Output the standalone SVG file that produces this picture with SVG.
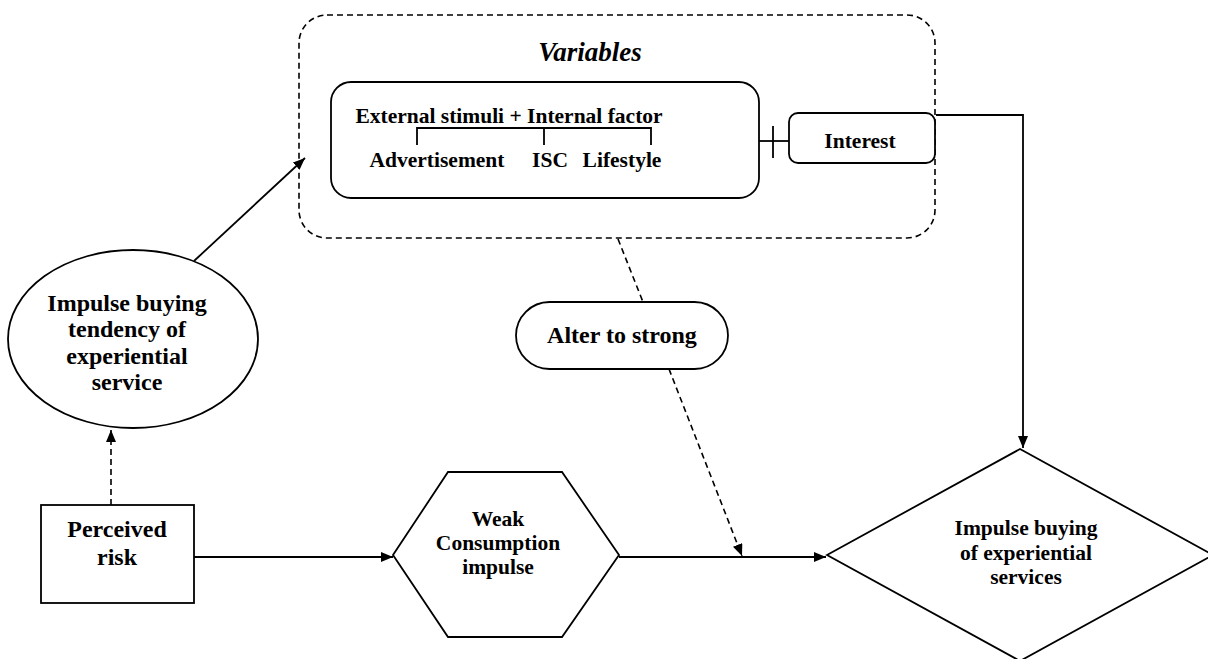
<svg xmlns="http://www.w3.org/2000/svg" width="1208" height="659" viewBox="0 0 1208 659">
  <defs>
    <marker id="arrow" viewBox="0 0 12 10" refX="12" refY="5" markerWidth="12" markerHeight="10" markerUnits="userSpaceOnUse" orient="auto">
      <path d="M0,0 L12,5 L0,10 Z" fill="#000"/>
    </marker>
    <style>
      .shape { fill: #fff; stroke: #000; stroke-width: 1.8; }
      .line { fill: none; stroke: #000; stroke-width: 1.8; }
      .dash { fill: none; stroke: #000; stroke-width: 1.6; stroke-dasharray: 6 4; }
      .lbl { font-family: "Liberation Serif", "Times New Roman", serif; font-weight: bold; fill: #000; text-anchor: middle; }
      .big { font-size: 24px; }
      .mid { font-size: 21.5px; }
    </style>
  </defs>
  <rect width="1208" height="659" fill="#fff"/>

  <!-- Variables group -->
  <g id="variables">
    <rect x="299" y="15" width="636" height="223" rx="28" ry="28" class="dash"/>
    <text x="590" y="61" class="lbl" font-size="27" font-style="italic">Variables</text>
  </g>

  <g id="factors">
    <rect x="331" y="82" width="428" height="116" rx="20" ry="20" class="shape"/>
    <text x="509" y="123" class="lbl mid">External stimuli + Internal factor</text>
    <path d="M417,145 V128 H651 V145 M544,128 V145" class="line" stroke-width="1.5"/>
    <text x="437" y="167" class="lbl mid">Advertisement</text>
    <text x="550" y="167" class="lbl mid">ISC</text>
    <text x="622" y="167" class="lbl mid">Lifestyle</text>
  </g>

  <g id="interest">
    <rect x="789" y="113" width="146" height="50" rx="9" ry="9" class="shape"/>
    <text x="860" y="148" class="lbl mid">Interest</text>
  </g>

  <g id="tendency">
    <ellipse cx="133" cy="339" rx="125" ry="89" class="shape"/>
    <text x="127" y="311" class="lbl big">Impulse buying</text>
    <text x="127" y="337" class="lbl big">tendency of</text>
    <text x="127" y="364" class="lbl big">experiential</text>
    <text x="127" y="390" class="lbl big">service</text>
  </g>

  <g id="perceived-risk">
    <rect x="41" y="505" width="153" height="98" class="shape"/>
    <text x="117" y="537" class="lbl big">Perceived</text>
    <text x="117" y="565" class="lbl big">risk</text>
  </g>

  <g id="weak-impulse">
    <polygon points="393,555 448,472 562,472 619,555 562,637 448,637" class="shape"/>
    <text x="498" y="526" class="lbl mid">Weak</text>
    <text x="498" y="550" class="lbl mid">Consumption</text>
    <text x="498" y="574" class="lbl mid">impulse</text>
  </g>

  <g id="alter">
    <rect x="516" y="302" width="212" height="67" rx="33.5" ry="33.5" class="shape"/>
    <text x="622" y="343" class="lbl big">Alter to strong</text>
  </g>

  <g id="impulse-buying">
    <polygon points="827,555 1020,449 1213,555 1020,661" class="shape"/>
    <text x="1026" y="535" class="lbl mid">Impulse buying</text>
    <text x="1026" y="560" class="lbl mid">of experiential</text>
    <text x="1026" y="584" class="lbl mid">services</text>
  </g>

  <!-- connectors -->
  <g id="connectors">
    <line x1="194" y1="261" x2="305" y2="158" class="line" marker-end="url(#arrow)"/>
    <line x1="111" y1="505" x2="111" y2="430" class="dash" stroke-dasharray="12 6" marker-end="url(#arrow)"/>
    <line x1="194" y1="557" x2="393" y2="557" class="line" marker-end="url(#arrow)"/>
    <line x1="619" y1="557" x2="826" y2="557" class="line" marker-end="url(#arrow)"/>
    <line x1="618" y1="239" x2="643" y2="302" class="dash"/>
    <line x1="669" y1="369" x2="742" y2="556" class="dash" marker-end="url(#arrow)"/>
    <line x1="759" y1="141" x2="789" y2="141" class="line"/>
    <line x1="773" y1="126" x2="773" y2="158" class="line"/>
    <polyline points="936,115 1023,115 1023,448" class="line" marker-end="url(#arrow)"/>
  </g>
</svg>
